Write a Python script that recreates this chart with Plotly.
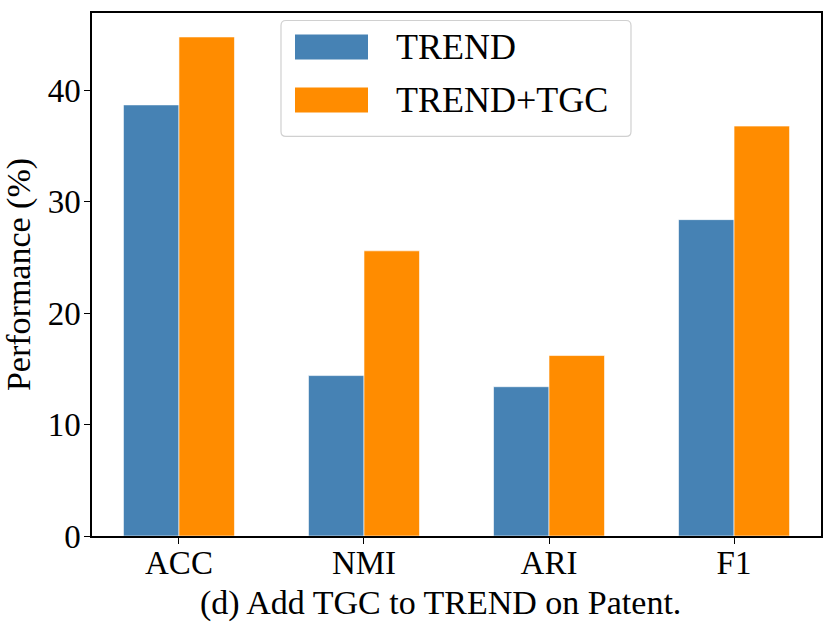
import plotly.graph_objects as go

categories = ["ACC", "NMI", "ARI", "F1"]
trend = [38.7, 14.4, 13.4, 28.4]
trend_tgc = [44.8, 25.6, 16.2, 36.8]
series_names = ["TREND", "TREND+TGC"]
colors = ["#4682B4", "#FF8C00"]
y_ticks = [0, 10, 20, 30, 40]

FONT = "Liberation Serif"

fig = go.Figure()
for name, vals, col in zip(series_names, [trend, trend_tgc], colors):
    fig.add_trace(go.Bar(
        x=categories, y=vals, name=name,
        marker=dict(color=col, line=dict(color="white", width=0.6)),
        showlegend=False,
    ))

W, H = 830, 623
L, R, T, B = 92, 9, 12.5, 87
pw, ph = W - L - R, H - T - B

def px(xp):
    return (xp - L) / pw

def py(yp):
    return (H - B - yp) / ph

# rounded legend frame
x0, x1, y0, y1 = px(281), px(631), py(136), py(20)
rx, ry = 5 / pw, 5 / ph
path = (f"M {x0+rx},{y0} L {x1-rx},{y0} Q {x1},{y0} {x1},{y0+ry} "
        f"L {x1},{y1-ry} Q {x1},{y1} {x1-rx},{y1} L {x0+rx},{y1} "
        f"Q {x0},{y1} {x0},{y1-ry} L {x0},{y0+ry} Q {x0},{y0} {x0+rx},{y0} Z")
shapes = [dict(type="path", path=path, xref="paper", yref="paper",
               fillcolor="rgba(255,255,255,0.8)", line=dict(color="#d0d0d0", width=1.2),
               layer="above")]
annotations = []
for i, (name, col) in enumerate(zip(series_names, colors)):
    top = 34 + i * 53
    shapes.append(dict(type="rect", xref="paper", yref="paper",
                       x0=px(295), x1=px(368), y0=py(top + 25), y1=py(top),
                       fillcolor=col, line=dict(width=0), layer="above"))
    annotations.append(dict(text=name, xref="paper", yref="paper",
                            x=px(394), y=py(top + 12.5), xanchor="left", yanchor="middle",
                            showarrow=False, font=dict(family=FONT, size=36, color="black")))

annotations.append(dict(text="(d) Add TGC to TREND on Patent.", xref="paper", yref="paper",
                        x=px(440), y=py(603), xanchor="center", yanchor="middle",
                        showarrow=False, font=dict(family=FONT, size=34, color="black")))

fig.update_layout(
    width=W, height=H,
    margin=dict(l=L, r=R, t=T, b=B, pad=0, autoexpand=False),
    paper_bgcolor="white", plot_bgcolor="white",
    barmode="group", bargap=0.4, bargroupgap=0,
    font=dict(family=FONT, color="black"),
    shapes=shapes, annotations=annotations,
    xaxis=dict(
        range=[-0.47, 3.47], showline=True, linecolor="black", linewidth=1.5, mirror=True,
        ticks="outside", ticklen=6, tickwidth=1.2, tickcolor="black", automargin=False,
        tickfont=dict(family=FONT, size=33), showgrid=False, ticklabelstandoff=-9,
    ),
    yaxis=dict(
        range=[0, 46.95], showline=True, linecolor="black", linewidth=1.5, mirror=True,
        ticks="outside", ticklen=6, tickwidth=1.2, tickcolor="black", automargin=False,
        tickvals=y_ticks, tickfont=dict(family=FONT, size=33), showgrid=False, zeroline=False,
        ticklabelstandoff=-3,
        title=dict(text="Performance (%)", font=dict(family=FONT, size=34), standoff=8),
    ),
)

fig.write_html("out.html", config={"displayModeBar": False},
               post_script="document.body.style.margin='0';document.body.style.padding='0';")
